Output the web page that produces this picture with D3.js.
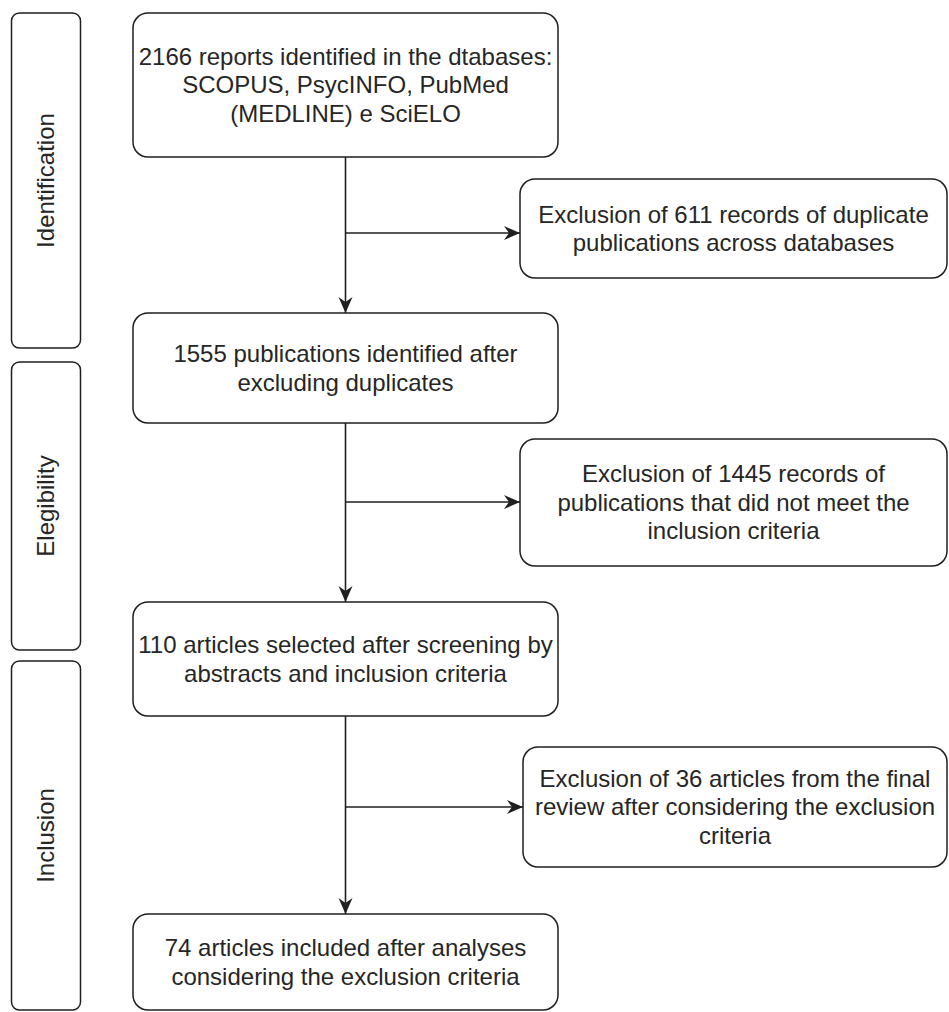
<!DOCTYPE html>
<html>
<head>
<meta charset="utf-8">
<script src="https://cdn.jsdelivr.net/npm/d3@7"></script>
<style>
  html, body { margin: 0; padding: 0; background: #fff; }
  svg { display: block; }
</style>
</head>
<body>
<div id="chart"></div>
<script>
// ---- Data (texts of the flow diagram) ----
const phases = ["Identification", "Elegibility", "Inclusion"];
const mainSteps = [
  ["2166 reports identified in the dtabases:", "SCOPUS, PsycINFO, PubMed", "(MEDLINE) e SciELO"],
  ["1555 publications identified after", "excluding duplicates"],
  ["110 articles selected after screening by", "abstracts and inclusion criteria"],
  ["74 articles included after analyses", "considering the exclusion criteria"]
];
const exclusions = [
  ["Exclusion of 611 records of duplicate", "publications across databases"],
  ["Exclusion of 1445 records of", "publications that did not meet the", "inclusion criteria"],
  ["Exclusion of 36 articles from the final", "review after considering the exclusion", "criteria"]
];

// ---- Layout ----
const W = 949, H = 1012;
const FONT = "'Liberation Sans', Arial, sans-serif";
const FS = 24, LH = 28.5;
const STROKE = "#1f1f1f", TEXT = "#262626";

const phaseX = [11.5, 80.5];
const phaseY = [[13, 348], [362, 650], [661, 1010]];
const mainX = [133, 558];
const mainY = [[13, 157], [313, 423], [602, 716], [914, 1010]];
const exclX = [[520, 947], [520, 947], [523, 947]];
const exclY = [[179, 278], [439, 566], [747, 867]];
const arrowY = [233, 502, 807];
const spineX = 345.5;

const svg = d3.select("#chart").append("svg")
  .attr("width", W).attr("height", H)
  .attr("viewBox", `0 0 ${W} ${H}`);

// arrow marker (classic notched)
svg.append("defs").append("marker")
  .attr("id", "arr")
  .attr("viewBox", "-17 -8 18 16")
  .attr("refX", 0).attr("refY", 0)
  .attr("markerWidth", 18).attr("markerHeight", 16)
  .attr("markerUnits", "userSpaceOnUse")
  .attr("orient", "auto")
  .append("path")
  .attr("d", "M0,0 L-16,-7 L-11,0 L-16,7 Z")
  .attr("fill", STROKE);

function textBlock(g, lines, cx, cy, rotate) {
  const n = lines.length;
  const t = g.append("text")
    .attr("font-family", FONT)
    .attr("font-size", FS)
    .attr("fill", TEXT)
    .attr("text-anchor", "middle")
    .attr("transform", rotate ? `translate(${cx},${cy}) rotate(-90)` : `translate(${cx},${cy})`);
  lines.forEach((l, i) => {
    t.append("tspan")
      .attr("x", 0)
      .attr("y", (i - (n - 1) / 2) * LH)
      .attr("dy", "0.35em")
      .text(l);
  });
}

// Phase boxes
const pg = svg.append("g");
phases.forEach((p, i) => {
  const [y0, y1] = phaseY[i];
  pg.append("rect")
    .attr("x", phaseX[0]).attr("y", y0)
    .attr("width", phaseX[1] - phaseX[0]).attr("height", y1 - y0)
    .attr("rx", 8).attr("ry", 8)
    .attr("fill", "#fff").attr("stroke", STROKE).attr("stroke-width", 1.5);
  textBlock(pg, [p], (phaseX[0] + phaseX[1]) / 2, (y0 + y1) / 2, true);
});

// Connectors
const lg = svg.append("g").attr("stroke", STROKE).attr("stroke-width", 1.6).attr("fill", "none");
for (let i = 0; i < mainY.length - 1; i++) {
  lg.append("line")
    .attr("x1", spineX).attr("y1", mainY[i][1])
    .attr("x2", spineX).attr("y2", mainY[i + 1][0])
    .attr("marker-end", "url(#arr)");
  lg.append("line")
    .attr("x1", spineX).attr("y1", arrowY[i])
    .attr("x2", exclX[i][0]).attr("y2", arrowY[i])
    .attr("marker-end", "url(#arr)");
}

// Main boxes
const mg = svg.append("g");
mainSteps.forEach((lines, i) => {
  const [y0, y1] = mainY[i];
  mg.append("rect")
    .attr("x", mainX[0]).attr("y", y0)
    .attr("width", mainX[1] - mainX[0]).attr("height", y1 - y0)
    .attr("rx", 15).attr("ry", 15)
    .attr("fill", "#fff").attr("stroke", STROKE).attr("stroke-width", 1.5);
  textBlock(mg, lines, (mainX[0] + mainX[1]) / 2, (y0 + y1) / 2, false);
});

// Exclusion boxes
const eg = svg.append("g");
exclusions.forEach((lines, i) => {
  const [y0, y1] = exclY[i];
  const [x0, x1] = exclX[i];
  eg.append("rect")
    .attr("x", x0).attr("y", y0)
    .attr("width", x1 - x0).attr("height", y1 - y0)
    .attr("rx", 15).attr("ry", 15)
    .attr("fill", "#fff").attr("stroke", STROKE).attr("stroke-width", 1.5);
  textBlock(eg, lines, (x0 + x1) / 2, (y0 + y1) / 2, false);
});
</script>
</body>
</html>
